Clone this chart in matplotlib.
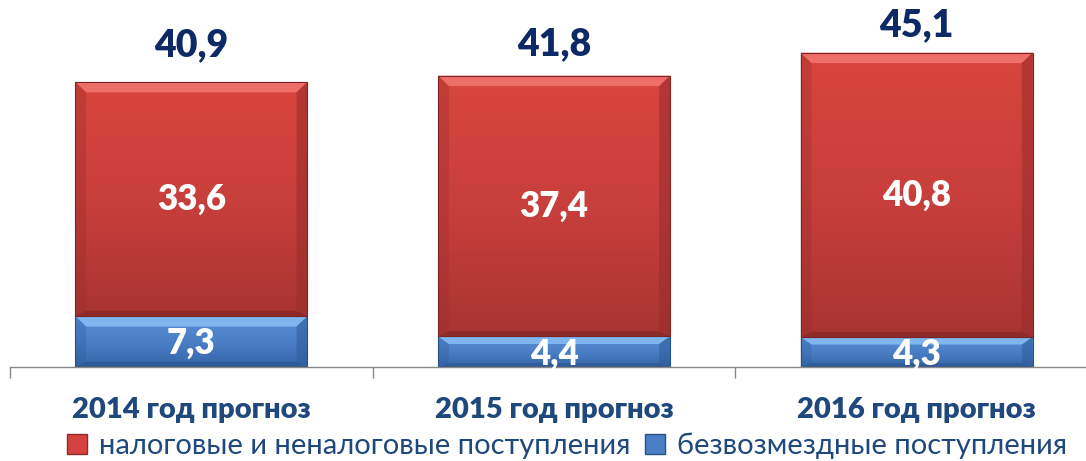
import numpy as np
import matplotlib.pyplot as plt
from matplotlib.patches import Polygon, Patch
from matplotlib.colors import LinearSegmentedColormap

# Data
categories = ["2014 год прогноз", "2015 год прогноз", "2016 год прогноз"]
tax_income = [33.6, 37.4, 40.8]      # налоговые и неналоговые
grants = [7.3, 4.4, 4.3]             # безвозмездные
totals = [40.9, 41.8, 45.1]
series_names = ["налоговые и неналоговые поступления", "безвозмездные поступления"]
total_label_gap = [5.3, 4.45, 3.9]   # how far the total sits above each bar

def fmt(v):
    return f"{v:.1f}".replace(".", ",")

plt.rcParams['font.family'] = ['Lato', 'DejaVu Sans']

fig = plt.figure(figsize=(10.86, 4.61), dpi=100)
# axis line sits ~367 px from top; 6.97 px per unit
ax = fig.add_axes([10 / 1086, 94 / 461, 1076 / 1086, 362 / 461])
ax.set_xlim(-0.5, 2.5 - 12 / 363)
ax.set_ylim(0, 362 / 6.97)

x = np.arange(len(categories))
width = 0.64

blue_cmap = LinearSegmentedColormap.from_list("b", ["#3565A8", "#4A7FC6", "#5A8FD6"])
red_cmap = LinearSegmentedColormap.from_list("r", ["#A83432", "#C83F3C", "#D9453F"])

b_bars = ax.bar(x, grants, width, color="#4A7FC6", edgecolor="none", zorder=2)
r_bars = ax.bar(x, tax_income, width, bottom=grants, color="#D4433F", edgecolor="none", zorder=2)

grad = np.linspace(0, 1, 256).reshape(-1, 1)

def style_bar(p, cmap, light, dark, side):
    bx, by = p.get_x(), p.get_y()
    w, h = p.get_width(), p.get_height()
    im = ax.imshow(grad, cmap=cmap, aspect="auto", origin="lower",
                   extent=(bx, bx + w, by, by + h), zorder=2.1)
    im.set_clip_path(p)
    dx = 0.03
    dy = min(1.5, h * 0.25)
    top = Polygon([(bx, by + h), (bx + w, by + h), (bx + w - dx, by + h - dy), (bx + dx, by + h - dy)],
                  closed=True, facecolor=light, edgecolor="none", zorder=2.2)
    bot = Polygon([(bx, by), (bx + w, by), (bx + w - dx, by + dy * 0.5), (bx + dx, by + dy * 0.5)],
                  closed=True, facecolor=dark, edgecolor="none", alpha=0.6, zorder=2.2)
    lft = Polygon([(bx, by), (bx, by + h), (bx + dx, by + h - dy), (bx + dx, by + dy * 0.5)],
                  closed=True, facecolor=side, edgecolor="none", alpha=0.35, zorder=2.2)
    rgt = Polygon([(bx + w, by), (bx + w, by + h), (bx + w - dx, by + h - dy), (bx + w - dx, by + dy * 0.5)],
                  closed=True, facecolor=side, edgecolor="none", alpha=0.6, zorder=2.2)
    for poly in (top, bot, lft, rgt):
        ax.add_patch(poly)
    ax.bar(bx + w / 2, h, w, bottom=by, color="none", edgecolor=dark, linewidth=0.8, zorder=2.3)

for p in b_bars:
    style_bar(p, blue_cmap, "#7FB6F0", "#2A5288", "#2F5E9E")
for p in r_bars:
    style_bar(p, red_cmap, "#EE6E69", "#7E2422", "#9A2E2C")

# value labels
for i in range(len(categories)):
    ax.text(x[i], grants[i] / 2 - 0.3, fmt(grants[i]), ha="center", va="center",
            color="white", fontsize=25, fontweight="heavy", zorder=3)
    ax.text(x[i], grants[i] + tax_income[i] / 2, fmt(tax_income[i]), ha="center", va="center",
            color="white", fontsize=25, fontweight="heavy", zorder=3)
    ax.text(x[i], totals[i] + total_label_gap[i], fmt(totals[i]), ha="center", va="center",
            color="#0E2A66", fontsize=27, fontweight="heavy", zorder=3)
    ax.text(x[i], -6.1, categories[i], ha="center", va="center",
            color="#1F487C", fontsize=21, fontweight="heavy", clip_on=False)

# axis
for s in ["top", "right", "left"]:
    ax.spines[s].set_visible(False)
ax.spines["bottom"].set_color("#888888")
ax.spines["bottom"].set_linewidth(1.0)
ax.set_xticks([-0.5, 0.5, 1.5])
ax.set_xticklabels([])
ax.tick_params(axis="x", direction="out", length=8, color="#888888", width=1.0)
ax.set_yticks([])

handles = [Patch(facecolor="#D4433F", edgecolor="#8E2A28"),
           Patch(facecolor="#4A7FC6", edgecolor="#2A5288")]
fig.legend(handles, series_names, loc="center", bbox_to_anchor=(567 / 1086, 1 - 446 / 461),
           ncol=2, frameon=False, fontsize=21, handlelength=0.7, handleheight=0.7,
           handletextpad=0.4, columnspacing=0.5, labelcolor="#1F487C")

fig.savefig("out.png", dpi=100)
